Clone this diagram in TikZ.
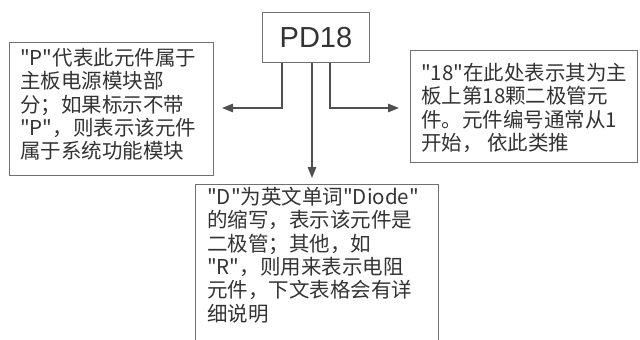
\documentclass[tikz,border=0pt]{standalone}
\usepackage{fontspec}
\setmainfont{Liberation Sans}
\newfontfamily\cjk{Noto Sans CJK SC}
\usetikzlibrary{arrows.meta}
\definecolor{txtc}{HTML}{333333}
\definecolor{boxc}{HTML}{707070}
\definecolor{linec}{HTML}{505050}
\tikzset{
  boxnode/.style={draw=boxc, line width=0.9pt, inner sep=0pt, anchor=north west},
  txt/.style={text=txtc, font=\cjk\fontsize{20.5}{23.3}\selectfont, align=left, inner sep=0pt, anchor=north west},
  conn/.style={draw=linec, line width=1.3pt, -{Triangle[length=11pt,width=8.5pt]}}
}
\begin{document}
\begin{tikzpicture}[x=1pt,y=-1pt]
\useasboundingbox[fill=white] (0,0) rectangle (640,340);
\clip (0,0) rectangle (640,340);
% top node
\node[boxnode, minimum width=107pt, minimum height=50pt] (PD) at (262,12) {};
\node[text=txtc, font=\fontsize{29}{32}\selectfont, inner sep=0pt] (PDt) at (PD.center) {PD18};
% left box
\node[boxnode, minimum width=204pt, minimum height=133pt] (L) at (9,42) {};
\node[txt] (Lt) at (20,48) {"P"代表此元件属于\\主板电源模块部\\分；如果标示不带\\"P"，则表示该元件\\属于系统功能模块};
% right box
\node[boxnode, minimum width=227pt, minimum height=112pt] (R) at (410,50) {};
\node[txt] (Rt) at (421,63) {"18"在此处表示其为主\\板上第18颗二极管元\\件。元件编号通常从1\\开始， 依此类推};
% bottom box
\node[boxnode, minimum width=243pt, minimum height=170pt] (B) at (195,184) {};
\node[txt] (Bt) at (207,187) {"D"为英文单词"Diode"\\的缩写，表示该元件是\\二极管；其他，如\\"R"，则用来表示电阻\\元件，下文表格会有详\\细说明};
% connector ends
\coordinate (la) at (222,108);
\coordinate (ra) at (399,108);
\coordinate (ba) at (312,178);
\draw[conn] (PD.south -| 282,0) |- (la);
\draw[conn] (PD.south -| 330,0) |- (ra);
\draw[conn] (PD.south -| ba) -- (ba);
\end{tikzpicture}
\end{document}
